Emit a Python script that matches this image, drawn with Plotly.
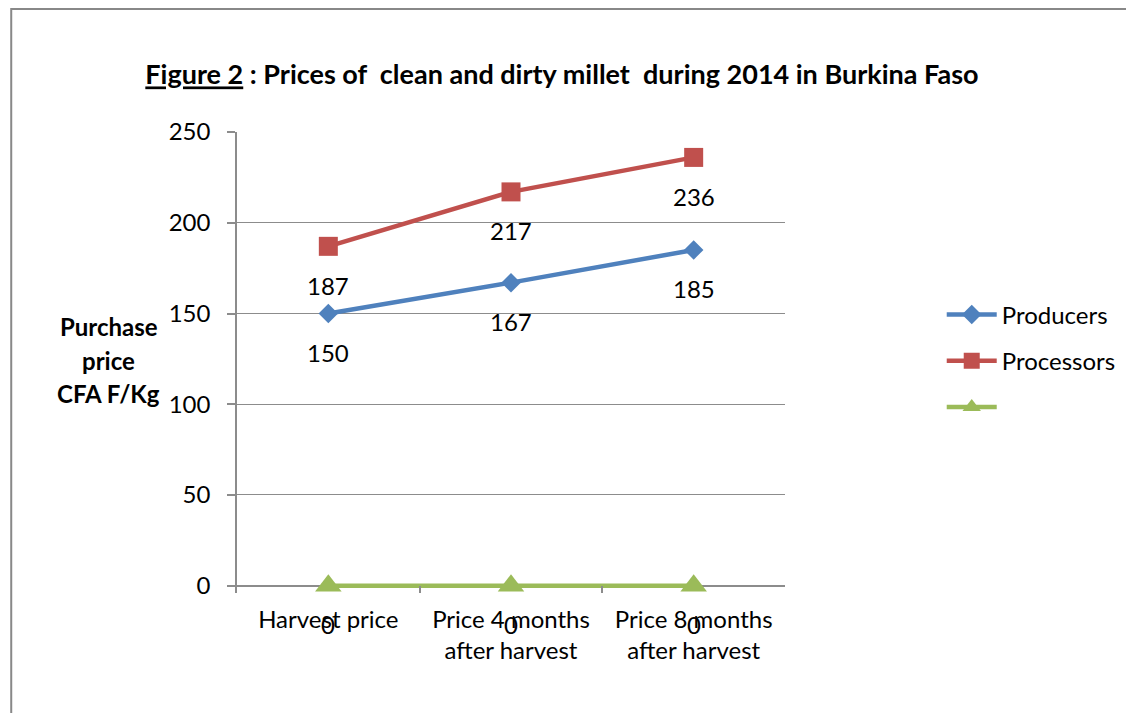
import plotly.graph_objects as go

# Categories and series values
categories = ["Harvest price", "Price 4 months<br>after harvest", "Price 8 months<br>after harvest"]
producers = [150, 167, 185]
processors = [187, 217, 236]
third_series = [0, 0, 0]

FONT = "Lato"
GRID = "#8c8c8c"

series = [
    ("Producers", producers, "#4F81BD", "diamond", 15),
    ("Processors", processors, "#C0504D", "square", 19),
    (" ", third_series, "#9BBB59", "triangle-up", 23),
]

fig = go.Figure()
for i, (name, vals, color, symbol, size) in enumerate(series):
    fig.add_trace(
        go.Scatter(
            x=categories,
            y=vals,
            name=name,
            mode="lines+markers",
            line=dict(color=color, width=4.5),
            marker=dict(symbol=symbol, size=size, color=color),
            cliponaxis=False,
            legendgroup=str(i),
        )
    )
    # Data labels sit well below each point (Excel style)
    for cat, v in zip(categories, vals):
        fig.add_annotation(
            x=cat, y=v, text=str(v), showarrow=False, yshift=-39,
            font=dict(family=FONT, size=24, color="black"),
        )

# Y-axis title written horizontally on the left, one line at a time
ylabel_lines = ["Purchase", "price", "CFA F/Kg"]
for k, line in enumerate(ylabel_lines):
    fig.add_annotation(
        xref="paper", yref="paper", x=-0.234, y=0.578 - k * 0.073,
        xanchor="center", yanchor="middle",
        text="<b>" + line + "</b>", showarrow=False,
        font=dict(family=FONT, size=24, color="black"),
    )

# Outer frame of the chart
fig.add_shape(
    type="rect", xref="paper", yref="paper",
    x0=-0.412, x1=1.75, y0=-0.4, y1=1.267,
    line=dict(color="#888888", width=2),
)

fig.update_layout(
    width=1134,
    height=713,
    margin=dict(l=229, r=357, t=124, b=128),
    paper_bgcolor="white",
    plot_bgcolor="white",
    font=dict(family=FONT, size=24, color="black"),
    title=dict(
        text="<b><u>Figure 2</u> : Prices of  clean and dirty millet  during 2014 in Burkina Faso</b>",
        x=0.4885, xanchor="center", y=0.906, yanchor="middle",
        font=dict(family=FONT, size=27, color="black"),
    ),
    legend=dict(
        x=1.286, y=0.652, xanchor="left", yanchor="top",
        font=dict(family=FONT, size=24, color="black"),
        tracegroupgap=12, itemwidth=50,
    ),
    showlegend=True,
)

# x axis: zero line of y acts as the axis; inside ticks drop below it
fig.update_xaxes(
    type="category", range=[-0.5, 2.5],
    showline=False,
    ticks="inside", tickson="boundaries", ticklen=7, tickcolor=GRID, tickwidth=1.5,
    showgrid=False, ticklabelstandoff=10,
    tickfont=dict(family=FONT, size=24, color="black"),
)
fig.update_yaxes(
    range=[-4, 250], tickvals=[0, 50, 100, 150, 200, 250],
    showline=True, linecolor=GRID, linewidth=1.5,
    ticks="outside", ticklen=8, tickcolor=GRID, tickwidth=1.5,
    showgrid=True, gridcolor=GRID, gridwidth=1.2,
    zeroline=True, zerolinecolor=GRID, zerolinewidth=1.5,
    ticklabelstandoff=12,
    tickfont=dict(family=FONT, size=24, color="black"),
)

fig.write_html("out.html")
